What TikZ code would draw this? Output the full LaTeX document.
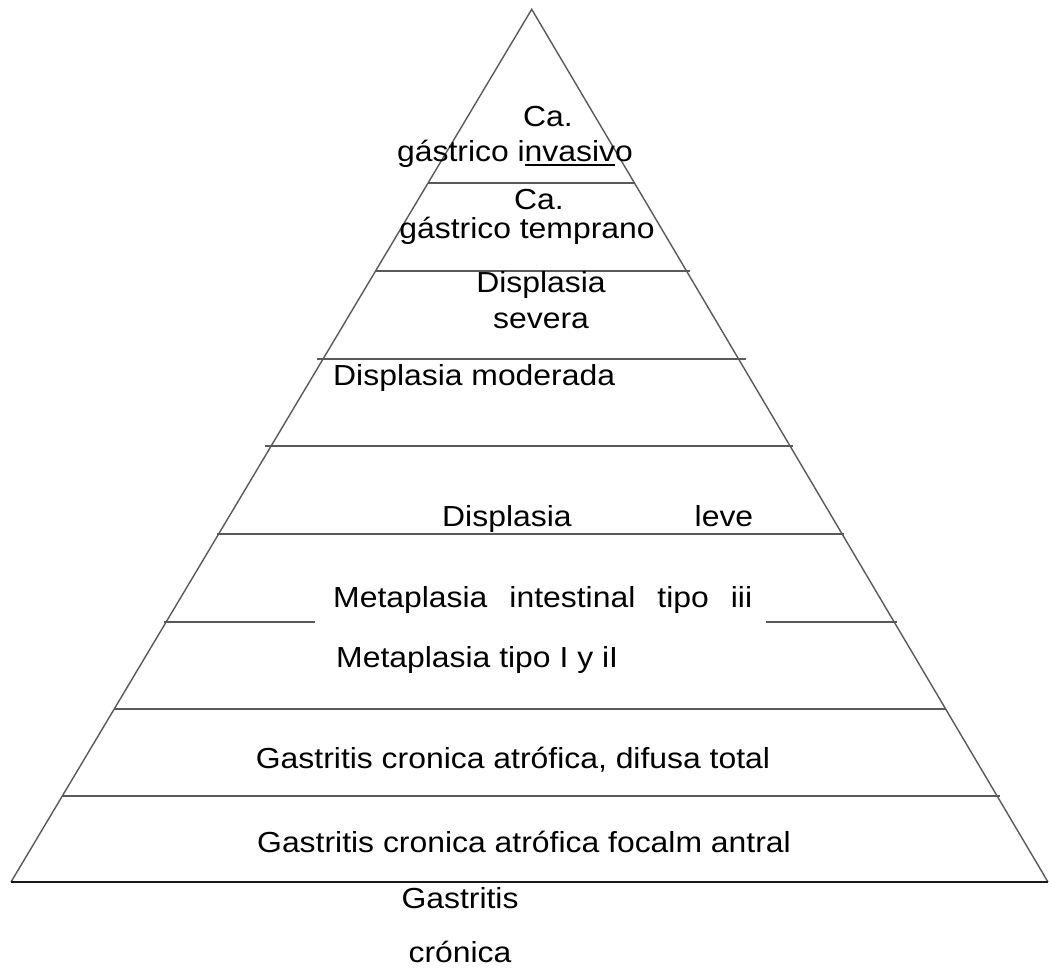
\documentclass[tikz,border=0pt]{standalone}
\usepackage{fontspec}
\setmainfont{Liberation Sans}[FakeStretch=1.1]
\usetikzlibrary{positioning}
\newcommand\ulseg[1]{\setbox0\hbox{#1}\rlap{\rule[-5pt]{\wd0}{1.8pt}}#1}

\begin{document}
\begin{tikzpicture}[x=1pt, y=-1pt,
  tier/.style={draw=black!65, line width=1.4pt},
  basis/.style={draw=black!90, line width=1.4pt},
  lbl/.style={font=\fontsize{29}{31}\selectfont, inner sep=0pt, anchor=base},
  lblw/.style={lbl, anchor=base west}
]
  \useasboundingbox (0,0) rectangle (1049,970);
  % outline of the pyramid
  \coordinate (apex) at (531.7,9.3);
  \coordinate (bl) at (11,882);
  \coordinate (br) at (1048,882);
  \draw[tier] (bl) -- (apex) -- (br);
  \draw[basis] (bl) -- (br);

  % tier lines
  \draw[tier] (428,183) -- (634,183);
  \draw[tier] (375,271) -- (690,271);
  \draw[tier] (317,359) -- (746,359);
  \draw[tier] (265,446) -- (793,446);
  \draw[tier] (217,534) -- (844,534);
  \draw[tier] (164,622) -- (315,622);
  \draw[tier] (766,622) -- (897,622);
  \draw[tier] (114,709) -- (946,709);
  \draw[tier] (62,796) -- (1000,796);

  % labels, top to bottom
  \node[lbl] (ca1) at (548,126) {Ca.};
  \node[lbl] (invasivo) at (515,161) {gástrico i\ulseg{nvasiv}o};
  \node[lbl] (ca2) at (539,209) {Ca.};
  \node[lbl] (temprano) at (527,238) {gástrico temprano};
  \node[lbl] (sev1) at (541,292) {Displasia};
  \node[lbl] (sev2) at (541,328) {severa};
  \node[lblw] (moderada) at (333,385) {Displasia moderada};
  \node[lblw] (leve) at (442,526) {\makebox[311pt][s]{Displasia leve}};
  \node[lblw] (metiii) at (333,607) {\makebox[419pt][s]{Metaplasia intestinal tipo iii}};
  \node[lblw] (metI) at (336,667) {Metaplasia tipo I y iI};
  \node[lbl] (difusa) at (513,768) {Gastritis cronica atrófica, difusa total};
  \node[lbl] (focal) at (524,852) {Gastritis cronica atrófica focalm antral};
  \node[lbl] (gas) at (460,908) {Gastritis};
  \node[lbl] (cron) at (460,962) {crónica};
\end{tikzpicture}
\end{document}
